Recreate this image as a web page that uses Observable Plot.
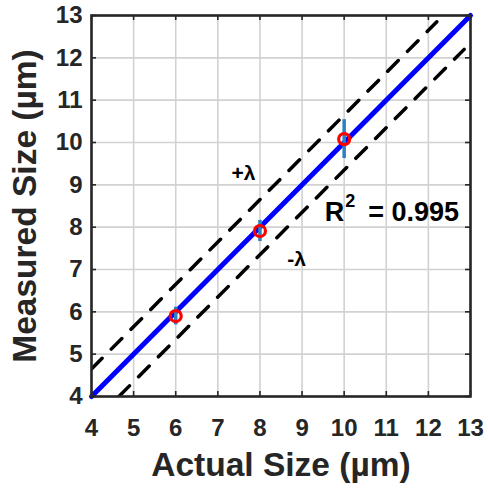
<!DOCTYPE html>
<html>
<head>
<meta charset="utf-8">
<script src="https://cdn.jsdelivr.net/npm/d3@7"></script>
<script src="https://cdn.jsdelivr.net/npm/@observablehq/plot@0.6"></script>
<style>
  html, body { margin: 0; padding: 0; background: #ffffff; }
  #chart { width: 488px; height: 488px; }
</style>
</head>
<body>
<div id="chart"></div>
<script>
// ---- data ----
const xTicks = [4, 5, 6, 7, 8, 9, 10, 11, 12, 13];
const yTicks = [4, 5, 6, 7, 8, 9, 10, 11, 12, 13];
const actual = [6, 8, 10];
const measured = [5.9, 7.91, 10.08];
const errHalf = [0.21, 0.25, 0.46];
const fitX = [4, 13];
const fitY = [4, 13];
const upperX = [4, 12.2];
const upperY = [4.65, 12.85];
const lowerX = [4.65, 12.85];
const lowerY = [4, 12.2];
const lambdaLabels = ["+λ", "-λ"];
const lambdaX = [7.61, 8.87];
const lambdaY = [9.27, 7.24];
const r2Parts = ["R", "2", "= 0.995"];
const r2X = [10];
const r2Y = [8.35];
const xLabel = "Actual Size (µm)";
const yLabel = "Measured Size (µm)";

const points = actual.map((a, i) => ({a, m: measured[i], lo: measured[i] - errHalf[i], hi: measured[i] + errHalf[i]}));
const fit = fitX.map((x, i) => ({x, y: fitY[i]}));
const upper = upperX.map((x, i) => ({x, y: upperY[i]}));
const lower = lowerX.map((x, i) => ({x, y: lowerY[i]}));
const lam = lambdaLabels.map((t, i) => ({t, x: lambdaX[i], y: lambdaY[i]}));
const r2 = [{x: r2X[0], y: r2Y[0]}];

const ink = "#262626";
const font = "'Liberation Sans', Arial, Helvetica, sans-serif";
const W = 488, H = 488, mT = 15, mR = 18, mB = 92, mL = 91;
const frameW = W - mL - mR, frameH = H - mT - mB, tickLen = 5;

const chart = Plot.plot({
  width: W, height: H,
  marginTop: mT, marginRight: mR, marginBottom: mB, marginLeft: mL,
  x: {domain: [4, 13]},
  y: {domain: [4, 13]},
  style: {fontFamily: font, color: ink, background: "#ffffff", overflow: "visible"},
  marks: [
    Plot.gridX(xTicks, {stroke: "#d2d2d2", strokeOpacity: 1, strokeWidth: 1.6}),
    Plot.gridY(yTicks, {stroke: "#d2d2d2", strokeOpacity: 1, strokeWidth: 1.6}),
    Plot.line(upper, {x: "x", y: "y", stroke: "#000000", strokeWidth: 3.5, strokeDasharray: "15,13", clip: true}),
    Plot.line(lower, {x: "x", y: "y", stroke: "#000000", strokeWidth: 3.5, strokeDasharray: "15,13", clip: true}),
    Plot.line(fit, {x: "x", y: "y", stroke: "#0000ff", strokeWidth: 5}),
    Plot.ruleX(points, {x: "a", y1: "lo", y2: "hi", stroke: "#2f80c2", strokeWidth: 3.5}),
    Plot.dot(points, {x: "a", y: "m", r: 5.5, stroke: "#ff0000", strokeWidth: 3.2, fill: "none"}),
    // inward ticks on all four sides
    Plot.tickX(xTicks, {x: d => d, insetTop: frameH - tickLen, stroke: ink, strokeWidth: 1.6}),
    Plot.tickX(xTicks, {x: d => d, insetBottom: frameH - tickLen, stroke: ink, strokeWidth: 1.6}),
    Plot.tickY(yTicks, {y: d => d, insetRight: frameW - tickLen, stroke: ink, strokeWidth: 1.6}),
    Plot.tickY(yTicks, {y: d => d, insetLeft: frameW - tickLen, stroke: ink, strokeWidth: 1.6}),
    Plot.frame({stroke: ink, strokeWidth: 2.6}),
    // tick labels
    Plot.axisX(xTicks, {anchor: "bottom", tickSize: 0, tickPadding: 22, fontSize: 24, fontWeight: "bold", label: null, fill: ink}),
    Plot.axisY(yTicks, {anchor: "left", tickSize: 0, tickPadding: 9, fontSize: 24, fontWeight: "bold", label: null, fill: ink}),
    // annotations
    Plot.text(lam, {x: "x", y: "y", text: "t", fontSize: 21, fontWeight: "bold", fill: "#000000"}),
    Plot.text(r2, {x: "x", y: "y", text: () => r2Parts[0], textAnchor: "end", fontSize: 27, fontWeight: "bold", fill: "#000000"}),
    Plot.text(r2, {x: "x", y: "y", text: () => r2Parts[1], textAnchor: "start", dx: 1, dy: -11, fontSize: 18, fontWeight: "bold", fill: "#000000"}),
    Plot.text(r2, {x: "x", y: "y", text: () => r2Parts[2], textAnchor: "start", dx: 24, fontSize: 27, fontWeight: "bold", fill: "#000000"}),
    // axis titles
    Plot.text([xLabel], {text: d => d, frameAnchor: "bottom", textAnchor: "middle", lineAnchor: "top", dy: 56, fontSize: 33.5, fontWeight: "bold", fill: ink}),
    Plot.text([yLabel], {text: d => d, frameAnchor: "left", textAnchor: "middle", lineAnchor: "top", rotate: -90, dx: -79, fontSize: 33.5, fontWeight: "bold", fill: ink})
  ]
});
document.getElementById("chart").appendChild(chart);
</script>
</body>
</html>
